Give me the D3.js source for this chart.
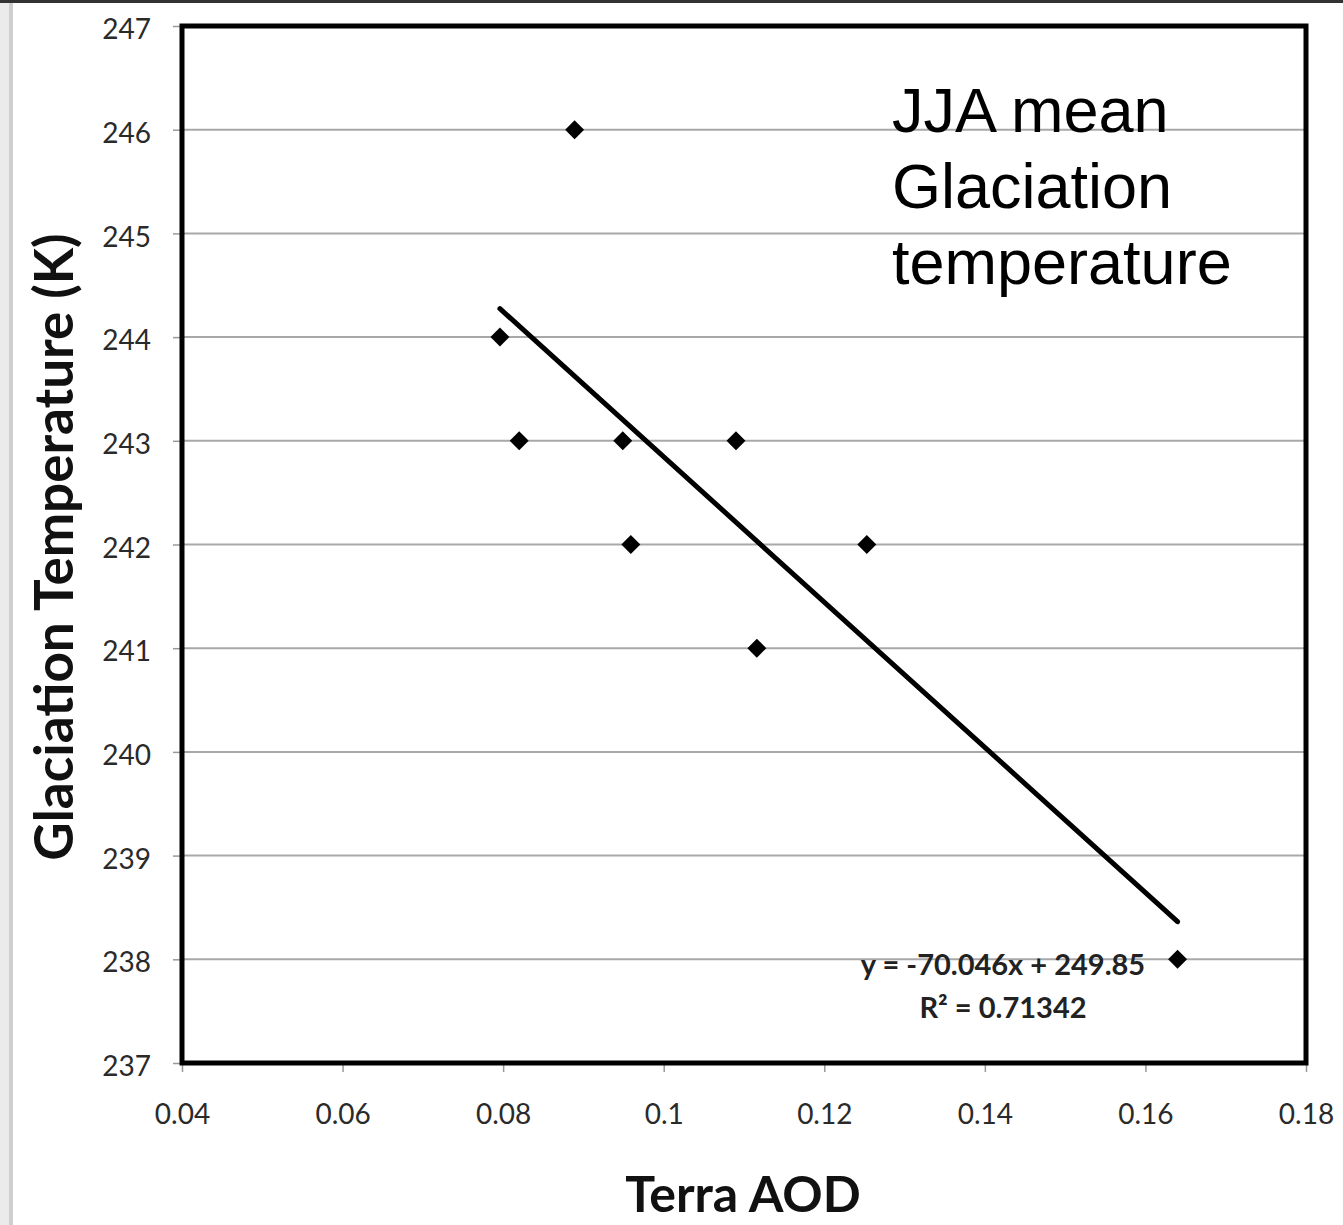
<!DOCTYPE html>
<html><head><meta charset="utf-8">
<script src="https://cdn.jsdelivr.net/npm/d3@7"></script>
<style>html,body{margin:0;padding:0;background:#fff;overflow:hidden}</style>
</head><body>
<script>
const aod = [0.0889, 0.0796, 0.0820, 0.0949, 0.1090, 0.0959, 0.1253, 0.1116, 0.1640];
const glacT = [246, 244, 243, 243, 243, 242, 242, 241, 238];
const xTicks = [0.04, 0.06, 0.08, 0.1, 0.12, 0.14, 0.16, 0.18];
const xTickLabels = ["0.04","0.06","0.08","0.1","0.12","0.14","0.16","0.18"];
const yTicks = [237, 238, 239, 240, 241, 242, 243, 244, 245, 246, 247];
const slope = -70.046, intercept = 249.85;
const eqLines = ["y = -70.046x + 249.85", "R² = 0.71342"];
const titleLines = ["JJA mean", "Glaciation", "temperature"];
const xTitle = "Terra AOD", yTitle = "Glaciation Temperature (K)";

const W = 1343, H = 1225;
const svg = d3.select("body").append("svg").attr("width", W).attr("height", H);
svg.append("rect").attr("width", W).attr("height", H).attr("fill", "#fff");
// outer screenshot frame
svg.append("rect").attr("x",0).attr("y",0).attr("width",10).attr("height",H).attr("fill","#ebebeb");
svg.append("rect").attr("x",9).attr("y",0).attr("width",4).attr("height",H).attr("fill","#cfcfcf");
svg.append("rect").attr("x",0).attr("y",0).attr("width",W).attr("height",3).attr("fill","#333");

const x = d3.scaleLinear().domain([0.04, 0.18]).range([182, 1306]);
const y = d3.scaleLinear().domain([237, 247]).range([1063, 26]);
const font = "Lato, 'Open Sans', sans-serif";

// gridlines
svg.append("g").selectAll("line").data(yTicks.slice(1, -1)).join("line")
  .attr("x1", x(0.04)).attr("x2", x(0.18))
  .attr("y1", d => y(d)).attr("y2", d => y(d))
  .attr("stroke", "#a8a8a8").attr("stroke-width", 2);

// axes (ticks + labels)
const yAxis = d3.axisLeft(y).tickValues(yTicks).tickSize(9).tickPadding(22).tickFormat(d3.format("d"));
const gy = svg.append("g").attr("transform", `translate(${x(0.04)},0)`).call(yAxis);
gy.select(".domain").remove();
gy.selectAll(".tick line").attr("stroke", "#999").attr("stroke-width", 1.5);
gy.selectAll(".tick text").attr("font-family", font).attr("font-size", 28).attr("fill", "#2a2a2a").attr("dy", "0.45em");

const xAxis = d3.axisBottom(x).tickValues(xTicks).tickSize(9).tickPadding(32).tickFormat((d, i) => xTickLabels[i]);
const gx = svg.append("g").attr("transform", `translate(0,${y(237)})`).call(xAxis);
gx.select(".domain").remove();
gx.selectAll(".tick line").attr("stroke", "#999").attr("stroke-width", 1.5);
gx.selectAll(".tick text").attr("font-family", font).attr("font-size", 28).attr("fill", "#2a2a2a");

// plot frame
svg.append("rect").attr("x", x(0.04)).attr("y", y(247)).attr("width", x(0.18) - x(0.04)).attr("height", y(237) - y(247))
  .attr("fill", "none").attr("stroke", "#000").attr("stroke-width", 5);

// trend line
const xmin = d3.min(aod), xmax = d3.max(aod);
svg.append("line")
  .attr("x1", x(xmin)).attr("y1", y(slope * xmin + intercept))
  .attr("x2", x(xmax)).attr("y2", y(slope * xmax + intercept))
  .attr("stroke", "#000").attr("stroke-width", 5).attr("stroke-linecap", "round");

// markers
const diamond = d3.symbol().type(d3.symbolDiamond2).size(230);
svg.append("g").selectAll("path").data(aod).join("path")
  .attr("d", diamond)
  .attr("transform", (d, i) => `translate(${x(d)},${y(glacT[i])})`)
  .attr("fill", "#000");

// equation
svg.append("g").selectAll("text").data(eqLines).join("text")
  .attr("x", 1003).attr("y", (d, i) => 975 + i * 43)
  .attr("text-anchor", "middle").attr("font-family", font).attr("font-weight", "bold")
  .attr("font-size", 29).attr("fill", "#222").text(d => d);

// title block
svg.append("g").selectAll("text").data(titleLines).join("text")
  .attr("x", 892).attr("y", (d, i) => 132 + i * 76)
  .attr("font-family", "'Liberation Sans', Arial, sans-serif").attr("font-size", 63).attr("fill", "#000").text(d => d);

// axis titles
svg.append("text").attr("x", 743).attr("y", 1212).attr("text-anchor", "middle")
  .attr("font-family", font).attr("font-weight", "bold").attr("font-size", 50).attr("fill", "#111").text(xTitle);
svg.append("text").attr("transform", "translate(73,547) rotate(-90)").attr("text-anchor", "middle")
  .attr("font-family", font).attr("font-weight", "bold").attr("font-size", 53).attr("fill", "#111").text(yTitle);
</script>
</body></html>
